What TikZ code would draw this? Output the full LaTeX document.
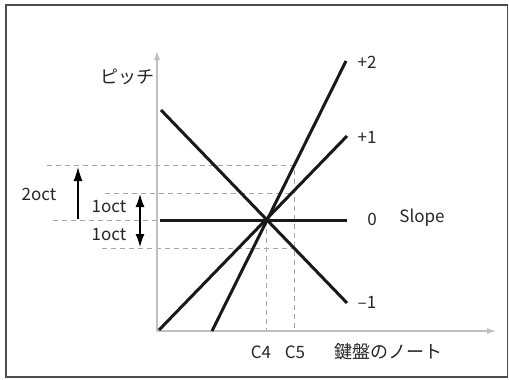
\documentclass[tikz,border=0pt]{standalone}
\usepackage{fontspec}
\setmainfont{Noto Sans CJK JP}
\usetikzlibrary{arrows.meta}
\begin{document}
\begin{tikzpicture}[x=1pt,y=-1pt,
  axisline/.style={draw=black!25,line width=2pt,-{Latex[length=10pt,width=6pt]}},
  slopeline/.style={draw=black!90,line width=3pt},
  guide/.style={draw=black!35,line width=0.9pt,dash pattern=on 5pt off 4pt},
  octarrow/.style={draw=black,line width=1.2pt},
  tip/.style={},
  lbl/.style={font=\fontsize{17}{19}\selectfont,inner sep=0pt,text=black!85},
  jlbl/.style={font=\fontsize{18}{20}\selectfont,inner sep=0pt,text=black!85}]
\useasboundingbox (0,0) rectangle (509,380);
\draw[black!70,line width=1.4pt] (6,5) rectangle (507.5,377);
% coordinates
\coordinate (O) at (157,331);
\coordinate (ytip) at (157,50);
\coordinate (xtip) at (497,331);
\coordinate (c) at (266.7,220);
% guides
\coordinate (g2L) at (47,165);
\coordinate (g2R) at (294,165);
\coordinate (g1L) at (105,193);
\coordinate (g1R) at (294,193);
\coordinate (g0L) at (53,220);
\coordinate (g0R) at (157,220);
\coordinate (gmL) at (102,248);
\coordinate (gmR) at (294,248);
\coordinate (c5b) at (294,331);
\coordinate (c4b) at (266.7,331);
\draw[guide] (g2L) -- (g2R) -- (c5b);
\draw[guide] (g1L) -- (g1R);
\draw[guide] (g0L) -- (g0R);
\draw[guide] (gmL) -- (gmR);
\draw[guide] (c) -- (c4b);
% axes
\draw[axisline] (O) -- (ytip);
\draw[axisline] (O) -- (xtip);
% slope lines
\coordinate (p2a) at (212,331);
\coordinate (p2b) at (346,61);
\coordinate (p1a) at (159,330);
\coordinate (p1b) at (347,136);
\coordinate (p0a) at (160,220);
\coordinate (p0b) at (347,220);
\coordinate (pma) at (161,110);
\coordinate (pmb) at (347,303);
\draw[slopeline] (p2a) -- (p2b);
\draw[slopeline] (p1a) -- (p1b);
\draw[slopeline] (p0a) -- (p0b);
\draw[slopeline] (pma) -- (pmb);
% oct arrows
\coordinate (a2s) at (78,219);
\coordinate (a2e) at (78,167);
\coordinate (a1s) at (140,194);
\coordinate (a1e) at (140,247);
\draw[octarrow,-{Latex[length=14pt,width=9pt]}] (a2s) -- (a2e);
\draw[octarrow,{Latex[length=13pt,width=9pt]}-{Latex[length=13pt,width=9pt]}] (a1s) -- (a1e);
% labels
\node[jlbl] (pitch) at (127,77) {ピッチ};
\node[lbl] (oct2) at (39,194) {2oct};
\node[lbl] (oct1u) at (109,207) {1oct};
\node[lbl] (oct1d) at (109,235) {1oct};
\node[lbl] (lp2) at (367,62) {+2};
\node[lbl] (lp1) at (367,137) {+1};
\node[lbl] (l0) at (372,219) {0};
\node[lbl] (slope) at (422,218) {Slope};
\node[lbl] (lm1) at (367,302) {–1};
\node[lbl] (c4) at (261,352) {C4};
\node[lbl] (c5) at (295,352) {C5};
\node[jlbl] (note) at (388,352) {鍵盤のノート};
\end{tikzpicture}
\end{document}
